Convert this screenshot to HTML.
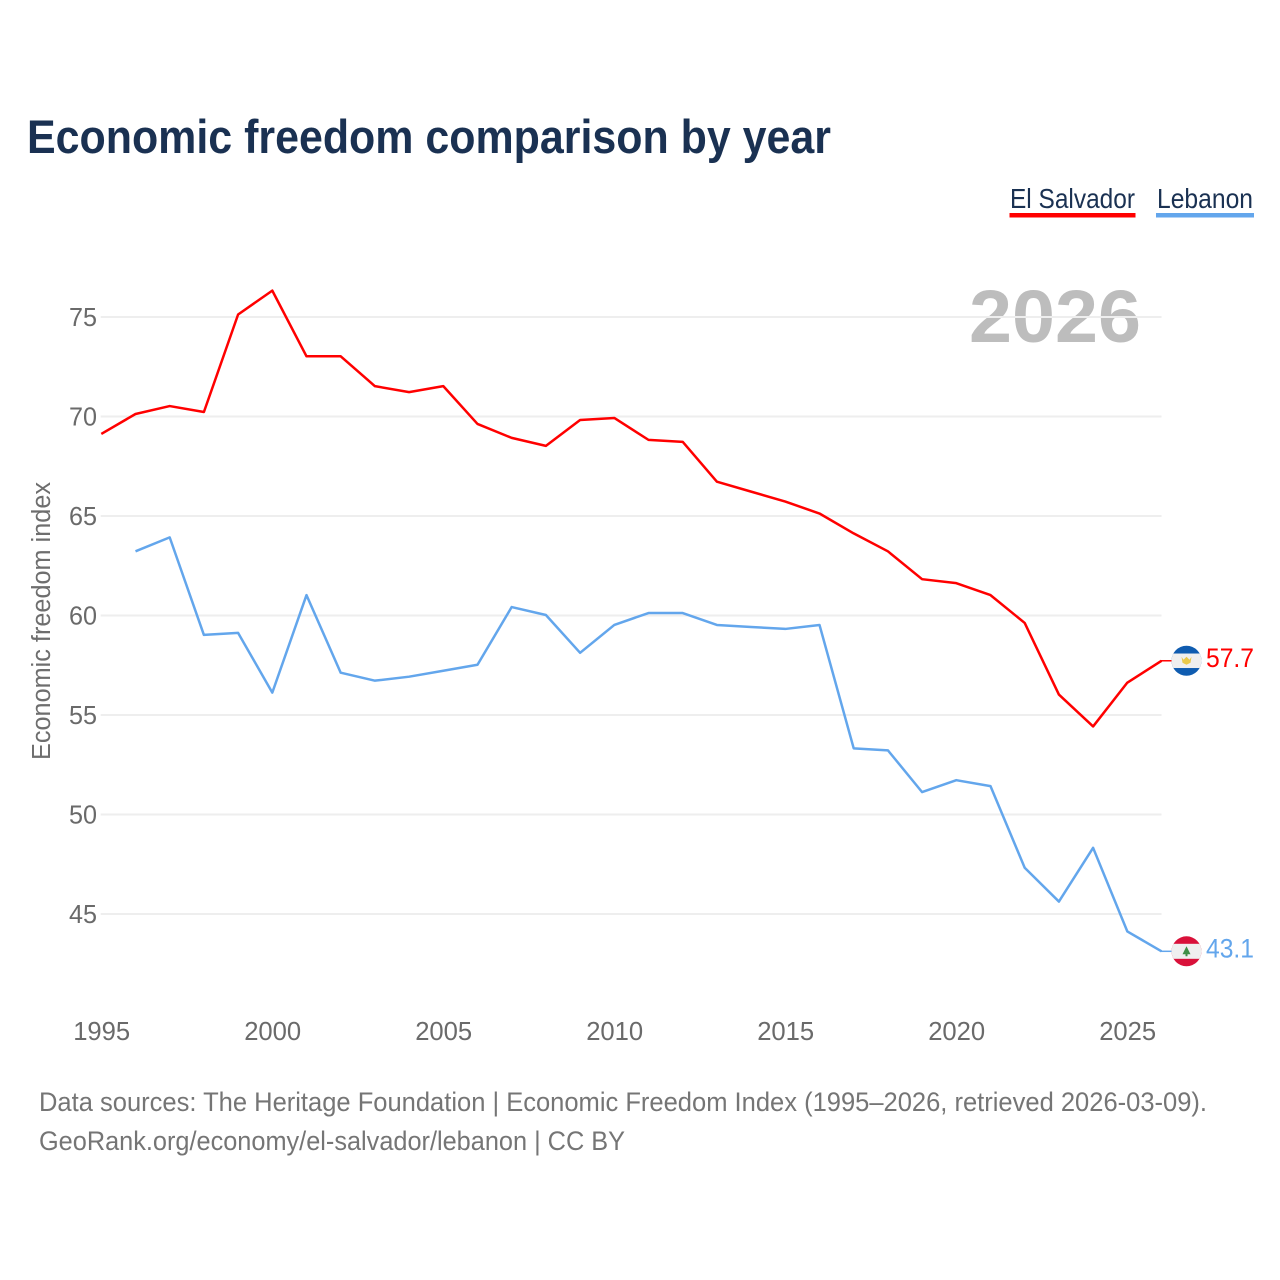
<!DOCTYPE html>
<html>
<head>
<meta charset="utf-8">
<style>
html,body{margin:0;padding:0;background:#fff;}
svg{display:block;}
text{font-family:"Liberation Sans",sans-serif;}
</style>
</head>
<body>
<svg id="chart" width="1280" height="1280" viewBox="0 0 1280 1280" xmlns="http://www.w3.org/2000/svg">
  <rect width="1280" height="1280" fill="#fff"/>
  <text x="27" y="153" font-size="47" font-weight="700" fill="#1a3152" textLength="804" lengthAdjust="spacingAndGlyphs">Economic freedom comparison by year</text>
  <g>
    <text x="1010" y="208" font-size="27.500" fill="#1a3152" textLength="125" lengthAdjust="spacingAndGlyphs">El Salvador</text>
    <rect x="1009.500" y="213" width="126" height="4.500" fill="#ff0000"/>
  </g>
  <g>
    <text x="1157" y="208" font-size="27.500" fill="#1a3152" textLength="96" lengthAdjust="spacingAndGlyphs">Lebanon</text>
    <rect x="1156" y="213" width="98" height="4.500" fill="#63a6ec"/>
  </g>
  <text x="969" y="342" font-size="74" font-weight="700" fill="#bdbdbd" textLength="172" lengthAdjust="spacingAndGlyphs">2026</text>
  <g id="grid"></g>
  <g id="yticks"></g>
  <g id="xticks"></g>
  <text transform="translate(50,621) rotate(-90)" text-anchor="middle" font-size="25.500" fill="#6e6e6e" textLength="278" lengthAdjust="spacingAndGlyphs">Economic freedom index</text>
  <g id="series"></g>
  <g id="endmarks"></g>
  <text x="39" y="1111" font-size="27" fill="#757575" textLength="1168" lengthAdjust="spacingAndGlyphs">Data sources: The Heritage Foundation | Economic Freedom Index (1995–2026, retrieved 2026-03-09).</text>
  <text x="39" y="1150" font-size="27" fill="#757575" textLength="586" lengthAdjust="spacingAndGlyphs">GeoRank.org/economy/el-salvador/lebanon | CC BY</text>
</svg>
<script>
const years = [1995,1996,1997,1998,1999,2000,2001,2002,2003,2004,2005,2006,2007,2008,2009,2010,2011,2012,2013,2014,2015,2016,2017,2018,2019,2020,2021,2022,2023,2024,2025,2026];
const elSalvador = [69.1,70.1,70.5,70.2,75.1,76.3,73.0,73.0,71.5,71.2,71.5,69.6,68.9,68.5,69.8,69.9,68.8,68.7,66.7,66.2,65.7,65.1,64.1,63.2,61.8,61.6,61.0,59.6,56.0,54.4,56.6,57.7];
const lebanon = [null,63.2,63.9,59.0,59.1,56.1,61.0,57.1,56.7,56.9,57.2,57.5,60.4,60.0,58.1,59.5,60.1,60.1,59.5,59.4,59.3,59.5,53.3,53.2,51.1,51.7,51.4,47.3,45.6,48.3,44.1,43.1];
const yTickValues = [45,50,55,60,65,70,75];
const xTickValues = [1995,2000,2005,2010,2015,2020,2025];

const NS = 'http://www.w3.org/2000/svg';
function xScale(year){ return 101.3 + (year - 1995) * 34.2; }
function yScale(v){ return 913.5 + (v - 45) * (317 - 914) / 30; }
function make(tag, attrs, parent){
  const el = document.createElementNS(NS, tag);
  for (const k in attrs) el.setAttribute(k, attrs[k]);
  parent.appendChild(el);
  return el;
}
const grid = document.getElementById('grid');
const yticks = document.getElementById('yticks');
const xticks = document.getElementById('xticks');
const series = document.getElementById('series');
const endmarks = document.getElementById('endmarks');

yTickValues.forEach(function(v){
  const line = make('line', {x1:100.700, x2:1161.500, y1:yScale(v)+0.500, y2:yScale(v)+0.500, stroke:'#eeeeee', 'stroke-width':2}, grid);
  
  
  const t = make('text', {x:97, y:yScale(v)+9.500, 'text-anchor':'end', 'font-size':26, fill:'#6a6a6a', textLength:28, lengthAdjust:'spacingAndGlyphs'}, yticks);
  t.textContent = v;
  
  
});
xTickValues.forEach(function(y){
  const t = make('text', {x:xScale(y)+0.400, y:1040, 'text-anchor':'middle', 'font-size':26, fill:'#6a6a6a', textLength:57, lengthAdjust:'spacingAndGlyphs'}, xticks);
  t.textContent = y;
  
  
});
function drawLine(values, color, name){
  let d = '';
  values.forEach(function(v, i){
    if (v === null) return;
    d += (d ? 'L' : 'M') + xScale(years[i]).toFixed(2) + ' ' + yScale(v).toFixed(2);
  });
  const p = make('path', {d:d, fill:'none', stroke:color, 'stroke-width':2.500, 'stroke-linejoin':'round'}, series);
  
  
}
drawLine(elSalvador, '#ff0000', 'line-el-salvador');
drawLine(lebanon, '#63a6ec', 'line-lebanon');

function drawEnd(values, color, key, flagTop, flagMid, emblem){
  const last = values[values.length - 1];
  const yy = yScale(last);
  const cx = 1186.500;
  const clipId = 'clip-' + key;
  const g = make('g', {}, endmarks);
  
  
  make('line', {x1:1161, x2:1172, y1:yy, y2:yy, stroke:color, 'stroke-width':1.500}, g);
  const cp = make('clipPath', {id:clipId}, g);
  make('circle', {cx:cx, cy:yy, r:15}, cp);
  const f = make('g', {'clip-path':'url(#' + clipId + ')'}, g);
  
  
  make('rect', {x:cx-16, y:yy-16, width:32, height:32, fill:flagTop}, f);
  make('rect', {x:cx-16, y:yy-flagMid/2, width:32, height:flagMid, fill:'#efefef'}, f);
  emblem(f, cx, yy);
  const t = make('text', {x:1254, y:yy+6, 'text-anchor':'end', 'font-size':27, fill:color, textLength:48, lengthAdjust:'spacingAndGlyphs'}, g);
  t.textContent = last.toFixed(1);
  
  
}
drawEnd(elSalvador, '#ff0000', 'el-salvador', '#0f5cb0', 14.500, function(f, cx, cy){
  make('path', {d:'M'+(cx-5)+' '+(cy-4)+'L'+(cx-3)+' '+(cy-1)+'L'+cx+' '+(cy-4)+'L'+(cx+3)+' '+(cy-1)+'L'+(cx+5)+' '+(cy-4)+'L'+(cx+4)+' '+(cy+2)+'L'+cx+' '+(cy+4)+'L'+(cx-4)+' '+(cy+2)+'Z', fill:'#e9c94a'}, f);
});
drawEnd(lebanon, '#63a6ec', 'lebanon', '#d9113a', 15, function(f, cx, cy){
  make('path', {d:'M'+cx+' '+(cy-5)+'L'+(cx+4)+' '+(cy+3)+'L'+(cx+1)+' '+(cy+3)+'L'+(cx+1)+' '+(cy+5)+'L'+(cx-1)+' '+(cy+5)+'L'+(cx-1)+' '+(cy+3)+'L'+(cx-4)+' '+(cy+3)+'Z', fill:'#3f8f46'}, f);
});
</script>
</body>
</html>
